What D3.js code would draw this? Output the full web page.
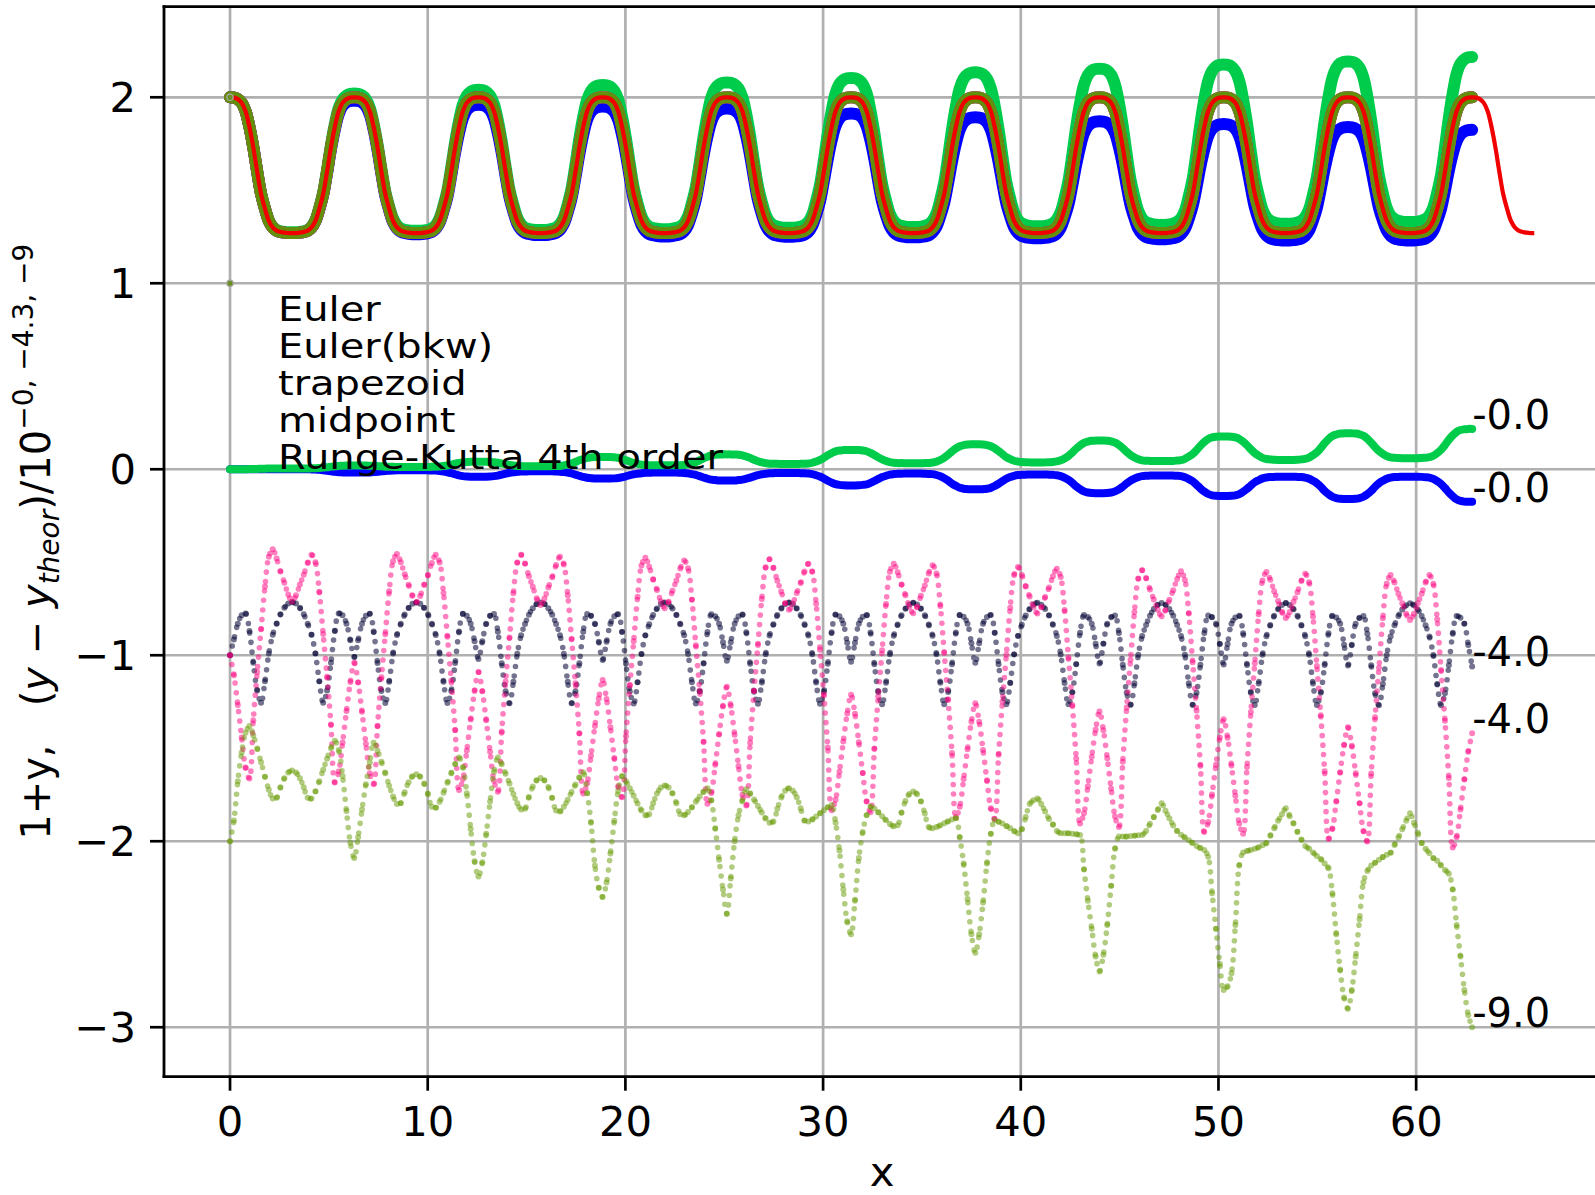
<!DOCTYPE html>
<html><head><meta charset="utf-8">
<script src="https://cdn.jsdelivr.net/npm/d3@7"></script>
<style>html,body{margin:0;padding:0;background:#fff;}svg{display:block;font-family:"DejaVu Sans",sans-serif;}</style>
</head><body>
<svg id="chart" width="1595" height="1195"></svg>
<script>
// sample spacing of every series (x = index * X_STEP)
const X_STEP = Math.PI / 16;

// 1 + y_theor  (x from 0 to 21*pi)
const theory = [
2,1.998,1.99,1.97,1.925,1.84,1.73,1.6,1.48,1.4,1.335,1.3,1.283,1.276,1.272,1.27,1.27,1.27,1.272,1.276,1.283,1.3,1.335,1.4,1.48,1.6,1.73,1.84,1.925,1.97,1.99,1.998,
2,1.998,1.99,1.97,1.925,1.84,1.73,1.6,1.48,1.4,1.335,1.3,1.283,1.276,1.272,1.27,1.27,1.27,1.272,1.276,1.283,1.3,1.335,1.4,1.48,1.6,1.73,1.84,1.925,1.97,1.99,1.998,
2,1.998,1.99,1.97,1.925,1.84,1.73,1.6,1.48,1.4,1.335,1.3,1.283,1.276,1.272,1.27,1.27,1.27,1.272,1.276,1.283,1.3,1.335,1.4,1.48,1.6,1.73,1.84,1.925,1.97,1.99,1.998,
2,1.998,1.99,1.97,1.925,1.84,1.73,1.6,1.48,1.4,1.335,1.3,1.283,1.276,1.272,1.27,1.27,1.27,1.272,1.276,1.283,1.3,1.335,1.4,1.48,1.6,1.73,1.84,1.925,1.97,1.99,1.998,
2,1.998,1.99,1.97,1.925,1.84,1.73,1.6,1.48,1.4,1.335,1.3,1.283,1.276,1.272,1.27,1.27,1.27,1.272,1.276,1.283,1.3,1.335,1.4,1.48,1.6,1.73,1.84,1.925,1.97,1.99,1.998,
2,1.998,1.99,1.97,1.925,1.84,1.73,1.6,1.48,1.4,1.335,1.3,1.283,1.276,1.272,1.27,1.27,1.27,1.272,1.276,1.283,1.3,1.335,1.4,1.48,1.6,1.73,1.84,1.925,1.97,1.99,1.998,
2,1.998,1.99,1.97,1.925,1.84,1.73,1.6,1.48,1.4,1.335,1.3,1.283,1.276,1.272,1.27,1.27,1.27,1.272,1.276,1.283,1.3,1.335,1.4,1.48,1.6,1.73,1.84,1.925,1.97,1.99,1.998,
2,1.998,1.99,1.97,1.925,1.84,1.73,1.6,1.48,1.4,1.335,1.3,1.283,1.276,1.272,1.27,1.27,1.27,1.272,1.276,1.283,1.3,1.335,1.4,1.48,1.6,1.73,1.84,1.925,1.97,1.99,1.998,
2,1.998,1.99,1.97,1.925,1.84,1.73,1.6,1.48,1.4,1.335,1.3,1.283,1.276,1.272,1.27,1.27,1.27,1.272,1.276,1.283,1.3,1.335,1.4,1.48,1.6,1.73,1.84,1.925,1.97,1.99,1.998,
2,1.998,1.99,1.97,1.925,1.84,1.73,1.6,1.48,1.4,1.335,1.3,1.283,1.276,1.272,1.27,1.27,1.27,1.272,1.276,1.283,1.3,1.335,1.4,1.48,1.6,1.73,1.84,1.925,1.97,1.99,1.998,
2,1.998,1.99,1.97,1.925,1.84,1.73,1.6,1.48,1.4,1.335,1.3,1.283,1.276,1.272,1.27,1.27
];

// Euler: y - y_theor (scale 10^0)
const eulerErr = [
0,0,0,0,0,0,0,0,0,0,0,0,0,0,0,0, 0,0,0,0,0,-0.001,-0.002,-0.003,-0.005,-0.008,-0.011,-0.014,-0.016,-0.017,-0.018,-0.018,
-0.018,-0.018,-0.018,-0.018,-0.017,-0.015,-0.014,-0.011,-0.009,-0.008,-0.007,-0.006,-0.006,-0.006,-0.006,-0.006, -0.006,-0.006,-0.006,-0.006,-0.007,-0.007,-0.009,-0.012,-0.016,-0.021,-0.027,-0.033,-0.037,-0.039,-0.04,-0.04,
-0.04,-0.04,-0.04,-0.039,-0.037,-0.034,-0.029,-0.024,-0.019,-0.016,-0.014,-0.012,-0.012,-0.011,-0.011,-0.011, -0.011,-0.011,-0.011,-0.011,-0.012,-0.013,-0.015,-0.018,-0.022,-0.029,-0.036,-0.041,-0.046,-0.048,-0.05,-0.05,
-0.05,-0.05,-0.05,-0.049,-0.047,-0.043,-0.038,-0.032,-0.027,-0.024,-0.021,-0.019,-0.019,-0.018,-0.018,-0.018, -0.018,-0.018,-0.018,-0.018,-0.019,-0.02,-0.022,-0.026,-0.03,-0.037,-0.044,-0.051,-0.056,-0.058,-0.06,-0.06,
-0.06,-0.06,-0.06,-0.058,-0.056,-0.051,-0.045,-0.038,-0.032,-0.027,-0.024,-0.022,-0.021,-0.02,-0.02,-0.02, -0.02,-0.02,-0.02,-0.021,-0.021,-0.023,-0.026,-0.032,-0.039,-0.05,-0.062,-0.072,-0.08,-0.084,-0.086,-0.087,
-0.087,-0.087,-0.086,-0.084,-0.081,-0.073,-0.063,-0.052,-0.042,-0.035,-0.029,-0.026,-0.024,-0.024,-0.023,-0.023, -0.023,-0.023,-0.023,-0.024,-0.025,-0.026,-0.031,-0.038,-0.048,-0.061,-0.077,-0.089,-0.1,-0.105,-0.107,-0.108,
-0.108,-0.108,-0.107,-0.105,-0.1,-0.09,-0.078,-0.064,-0.051,-0.042,-0.035,-0.031,-0.03,-0.029,-0.028,-0.028, -0.028,-0.028,-0.028,-0.029,-0.03,-0.032,-0.037,-0.046,-0.057,-0.073,-0.092,-0.107,-0.119,-0.125,-0.128,-0.129,
-0.129,-0.129,-0.128,-0.125,-0.119,-0.108,-0.093,-0.076,-0.061,-0.05,-0.042,-0.037,-0.035,-0.034,-0.033,-0.033, -0.033,-0.033,-0.033,-0.034,-0.035,-0.037,-0.043,-0.053,-0.065,-0.083,-0.103,-0.12,-0.133,-0.14,-0.143,-0.144,
-0.144,-0.144,-0.143,-0.14,-0.134,-0.121,-0.106,-0.087,-0.07,-0.059,-0.049,-0.044,-0.042,-0.041,-0.04,-0.04, -0.04,-0.04,-0.04,-0.041,-0.042,-0.045,-0.051,-0.062,-0.075,-0.094,-0.116,-0.134,-0.148,-0.155,-0.159,-0.16,
-0.16,-0.16,-0.159,-0.155,-0.148,-0.134,-0.116,-0.094,-0.075,-0.062,-0.051,-0.045,-0.042,-0.041,-0.04,-0.04, -0.04,-0.04,-0.04,-0.041,-0.043,-0.045,-0.052,-0.064,-0.079,-0.101,-0.125,-0.145,-0.162,-0.17,-0.174,-0.175,
-0.175
];

// Euler(bkw): y - y_theor (scale 10^0)
const eulerBkwErr = [
0,0,0,0,0,0.001,0.001,0.002,0.003,0.003,0.004,0.004,0.004,0.004,0.004,0.004, 0.004,0.004,0.004,0.004,0.004,0.005,0.005,0.007,0.009,0.011,0.014,0.016,0.018,0.019,0.02,0.02,
0.02,0.02,0.02,0.02,0.019,0.018,0.017,0.016,0.014,0.013,0.013,0.012,0.012,0.012,0.012,0.012, 0.012,0.012,0.012,0.012,0.013,0.013,0.015,0.017,0.02,0.025,0.03,0.034,0.037,0.039,0.04,0.04,
0.04,0.04,0.04,0.039,0.038,0.035,0.031,0.027,0.023,0.02,0.018,0.017,0.016,0.016,0.016,0.016, 0.016,0.016,0.016,0.017,0.017,0.018,0.021,0.025,0.031,0.039,0.048,0.055,0.061,0.064,0.066,0.066,
0.066,0.066,0.066,0.064,0.062,0.056,0.049,0.041,0.034,0.029,0.025,0.023,0.022,0.021,0.021,0.021, 0.021,0.021,0.021,0.022,0.022,0.023,0.026,0.032,0.038,0.048,0.058,0.067,0.074,0.078,0.079,0.08,
0.08,0.08,0.079,0.078,0.075,0.069,0.061,0.051,0.043,0.037,0.033,0.03,0.029,0.029,0.028,0.028, 0.028,0.028,0.028,0.029,0.03,0.031,0.035,0.042,0.05,0.062,0.076,0.087,0.096,0.101,0.103,0.104,
0.104,0.104,0.103,0.101,0.097,0.088,0.077,0.064,0.053,0.045,0.038,0.035,0.033,0.033,0.032,0.032, 0.032,0.032,0.032,0.033,0.034,0.036,0.041,0.05,0.062,0.078,0.096,0.112,0.124,0.13,0.133,0.134,
0.134,0.134,0.133,0.13,0.124,0.113,0.098,0.081,0.065,0.054,0.046,0.041,0.039,0.038,0.037,0.037, 0.037,0.037,0.037,0.038,0.039,0.042,0.048,0.058,0.071,0.09,0.111,0.128,0.142,0.149,0.153,0.154,
0.154,0.154,0.153,0.15,0.143,0.13,0.113,0.094,0.076,0.064,0.054,0.048,0.046,0.045,0.044,0.044, 0.044,0.044,0.044,0.045,0.047,0.049,0.056,0.068,0.082,0.103,0.127,0.147,0.163,0.171,0.175,0.176,
0.176,0.176,0.175,0.171,0.163,0.148,0.129,0.107,0.087,0.073,0.061,0.055,0.053,0.051,0.05,0.05, 0.05,0.05,0.05,0.051,0.053,0.056,0.063,0.076,0.091,0.114,0.14,0.162,0.179,0.187,0.192,0.193,
0.193,0.193,0.192,0.188,0.18,0.164,0.143,0.119,0.098,0.083,0.071,0.064,0.062,0.06,0.059,0.059, 0.059,0.059,0.059,0.061,0.062,0.065,0.073,0.087,0.105,0.13,0.159,0.182,0.201,0.211,0.215,0.217,
0.217
];

// trapezoid: scaled error, plotted with offset -1
const trapezoidErr = [
-1,-0.915,-0.83,-0.785,-0.775,-0.87,-1.04,-1.19,-1.255,-1.14,-0.99,-0.89,-0.83,-0.78,-0.745,-0.722,-0.715,-0.722,-0.745,-0.78,-0.83,-0.89,-0.99,-1.14,-1.255,-1.19,-1.04,-0.87,-0.775,-0.785,-0.83,-0.92,
-1.01,-0.92,-0.83,-0.787,-0.777,-0.872,-1.042,-1.192,-1.257,-1.142,-0.991,-0.891,-0.831,-0.781,-0.746,-0.723,-0.716,-0.723,-0.746,-0.781,-0.831,-0.891,-0.991,-1.142,-1.257,-1.192,-1.042,-0.872,-0.777,-0.787,-0.83,-0.925,
-1.02,-0.925,-0.83,-0.788,-0.778,-0.873,-1.043,-1.193,-1.258,-1.143,-0.992,-0.892,-0.832,-0.782,-0.747,-0.724,-0.716,-0.724,-0.747,-0.782,-0.832,-0.892,-0.992,-1.143,-1.258,-1.193,-1.043,-0.873,-0.778,-0.788,-0.83,-0.928,
-1.025,-0.928,-0.83,-0.79,-0.78,-0.875,-1.045,-1.195,-1.26,-1.145,-0.993,-0.893,-0.833,-0.783,-0.748,-0.725,-0.717,-0.725,-0.748,-0.783,-0.833,-0.893,-0.993,-1.145,-1.26,-1.195,-1.045,-0.875,-0.78,-0.79,-0.83,-0.93,
-1.03,-0.93,-0.83,-0.791,-0.781,-0.876,-1.046,-1.196,-1.261,-1.146,-0.994,-0.894,-0.834,-0.784,-0.749,-0.726,-0.717,-0.726,-0.749,-0.784,-0.834,-0.894,-0.994,-1.146,-1.261,-1.196,-1.046,-0.876,-0.781,-0.791,-0.83,-0.933,
-1.035,-0.933,-0.83,-0.793,-0.783,-0.878,-1.048,-1.198,-1.263,-1.148,-0.995,-0.895,-0.835,-0.785,-0.75,-0.727,-0.718,-0.727,-0.75,-0.785,-0.835,-0.895,-0.995,-1.148,-1.263,-1.198,-1.048,-0.878,-0.783,-0.793,-0.83,-0.935,
-1.04,-0.935,-0.83,-0.794,-0.784,-0.879,-1.049,-1.199,-1.264,-1.149,-0.996,-0.896,-0.836,-0.786,-0.751,-0.728,-0.718,-0.728,-0.751,-0.786,-0.836,-0.896,-0.996,-1.149,-1.264,-1.199,-1.049,-0.879,-0.784,-0.794,-0.83,-0.938,
-1.045,-0.938,-0.83,-0.796,-0.786,-0.881,-1.051,-1.201,-1.266,-1.151,-0.997,-0.897,-0.837,-0.787,-0.752,-0.729,-0.719,-0.729,-0.752,-0.787,-0.837,-0.897,-0.997,-1.151,-1.266,-1.201,-1.051,-0.881,-0.786,-0.796,-0.83,-0.94,
-1.05,-0.94,-0.83,-0.797,-0.787,-0.882,-1.052,-1.202,-1.267,-1.152,-0.998,-0.898,-0.838,-0.788,-0.753,-0.73,-0.719,-0.73,-0.753,-0.788,-0.838,-0.898,-0.998,-1.152,-1.267,-1.202,-1.052,-0.882,-0.787,-0.797,-0.83,-0.943,
-1.055,-0.943,-0.83,-0.799,-0.789,-0.884,-1.054,-1.204,-1.269,-1.154,-0.999,-0.899,-0.839,-0.789,-0.754,-0.731,-0.72,-0.731,-0.754,-0.789,-0.839,-0.899,-0.999,-1.154,-1.269,-1.204,-1.054,-0.884,-0.789,-0.799,-0.83,-0.945,
-1.06
];

// midpoint: scaled error, plotted with offset -1
const midpointErr = [
-1,-1.107,-1.268,-1.442,-1.603,-1.663,-1.35,-1.09,-0.86,-0.63,-0.47,-0.43,-0.48,-0.55,-0.61,-0.674,-0.712,-0.678,-0.62,-0.567,-0.504,-0.46,-0.5,-0.658,-0.886,-1.115,-1.373,-1.684,-1.625,-1.469,-1.3,-1.144,
-1.04,-1.146,-1.304,-1.476,-1.634,-1.693,-1.379,-1.118,-0.887,-0.656,-0.495,-0.455,-0.5,-0.565,-0.621,-0.68,-0.715,-0.681,-0.622,-0.568,-0.504,-0.46,-0.501,-0.665,-0.901,-1.136,-1.402,-1.724,-1.666,-1.512,-1.346,-1.192,
-1.09,-1.194,-1.35,-1.519,-1.675,-1.734,-1.41,-1.141,-0.904,-0.667,-0.502,-0.46,-0.507,-0.575,-0.632,-0.694,-0.73,-0.695,-0.636,-0.58,-0.515,-0.47,-0.512,-0.677,-0.914,-1.151,-1.42,-1.744,-1.688,-1.54,-1.38,-1.232,
-1.133,-1.235,-1.387,-1.553,-1.705,-1.763,-1.435,-1.164,-0.925,-0.685,-0.518,-0.476,-0.524,-0.591,-0.649,-0.71,-0.747,-0.712,-0.653,-0.598,-0.534,-0.49,-0.532,-0.702,-0.946,-1.19,-1.466,-1.799,-1.741,-1.589,-1.423,-1.271,
-1.169,-1.272,-1.427,-1.595,-1.75,-1.808,-1.471,-1.192,-0.945,-0.698,-0.527,-0.484,-0.531,-0.599,-0.657,-0.719,-0.756,-0.722,-0.665,-0.612,-0.55,-0.508,-0.551,-0.723,-0.97,-1.217,-1.496,-1.834,-1.777,-1.627,-1.464,-1.313,
-1.213,-1.315,-1.468,-1.633,-1.786,-1.844,-1.504,-1.222,-0.973,-0.724,-0.551,-0.508,-0.554,-0.62,-0.677,-0.738,-0.774,-0.739,-0.68,-0.625,-0.56,-0.516,-0.56,-0.735,-0.988,-1.24,-1.525,-1.87,-1.814,-1.666,-1.505,-1.357,
-1.258,-1.358,-1.509,-1.672,-1.823,-1.88,-1.535,-1.249,-0.997,-0.744,-0.569,-0.525,-0.568,-0.63,-0.684,-0.741,-0.775,-0.742,-0.687,-0.636,-0.575,-0.535,-0.579,-0.757,-1.012,-1.267,-1.555,-1.904,-1.849,-1.704,-1.546,-1.4,
-1.303,-1.403,-1.554,-1.717,-1.867,-1.924,-1.572,-1.281,-1.024,-0.767,-0.588,-0.543,-0.585,-0.647,-0.7,-0.756,-0.79,-0.757,-0.702,-0.65,-0.59,-0.549,-0.595,-0.776,-1.037,-1.299,-1.594,-1.951,-1.896,-1.749,-1.589,-1.442,
-1.344,-1.444,-1.593,-1.755,-1.904,-1.96,-1.601,-1.305,-1.043,-0.78,-0.598,-0.552,-0.594,-0.656,-0.709,-0.766,-0.8,-0.768,-0.713,-0.661,-0.601,-0.562,-0.608,-0.792,-1.058,-1.323,-1.624,-1.987,-1.932,-1.787,-1.629,-1.484,
-1.387,-1.486,-1.635,-1.796,-1.945,-2.001,-1.636,-1.334,-1.067,-0.801,-0.615,-0.569,-0.609,-0.67,-0.721,-0.777,-0.81,-0.777,-0.721,-0.67,-0.609,-0.569,-0.616,-0.806,-1.079,-1.352,-1.66,-2.034,-1.978,-1.829,-1.668,-1.519,
-1.42
];

// Runge-Kutta 4th order: scaled error, plotted with offset -2
const rk4Err = [
-2,-1.888,-1.678,-1.523,-1.417,-1.38,-1.431,-1.501,-1.575,-1.653,-1.723,-1.77,-1.766,-1.71,-1.661,-1.631, -1.62,-1.631,-1.661,-1.71,-1.766,-1.77,-1.733,-1.677,-1.615,-1.556,-1.5,-1.46,-1.51,-1.649,-1.838,-2.008,
-2.09,-1.978,-1.83,-1.693,-1.576,-1.47,-1.513,-1.572,-1.635,-1.701,-1.76,-1.8,-1.795,-1.736,-1.683,-1.651, -1.64,-1.653,-1.689,-1.748,-1.815,-1.82,-1.788,-1.739,-1.685,-1.634,-1.585,-1.55,-1.601,-1.742,-1.934,-2.107,
-2.19,-2.113,-1.96,-1.787,-1.627,-1.55,-1.586,-1.637,-1.69,-1.746,-1.796,-1.83,-1.825,-1.762,-1.706,-1.672, -1.66,-1.673,-1.709,-1.768,-1.835,-1.84,-1.815,-1.777,-1.735,-1.695,-1.657,-1.63,-1.74,-1.9,-2.13,-2.25,
-2.3,-2.222,-2.066,-1.89,-1.728,-1.65,-1.677,-1.715,-1.755,-1.797,-1.835,-1.86,-1.855,-1.796,-1.743,-1.711, -1.7,-1.711,-1.743,-1.796,-1.855,-1.86,-1.843,-1.817,-1.788,-1.76,-1.734,-1.715,-1.78,-1.93,-2.1,-2.26,
-2.39,-2.2,-2,-1.86,-1.78,-1.72,-1.743,-1.776,-1.81,-1.846,-1.878,-1.9,-1.894,-1.826,-1.765,-1.728, -1.715,-1.728,-1.763,-1.822,-1.889,-1.894,-1.883,-1.867,-1.85,-1.833,-1.817,-1.805,-1.9,-2.05,-2.26,-2.43,
-2.5,-2.32,-2.09,-1.95,-1.86,-1.815,-1.824,-1.844,-1.865,-1.887,-1.907,-1.92,-1.914,-1.845,-1.783,-1.746, -1.733,-1.747,-1.786,-1.851,-1.924,-1.93,-1.924,-1.914,-1.903,-1.893,-1.883,-1.876,-1.98,-2.12,-2.31,-2.5,
-2.6,-2.5,-2.33,-2.12,-1.96,-1.886,-1.895,-1.905,-1.918,-1.93,-1.945,-1.957,-1.935,-1.87,-1.8,-1.78, -1.77,-1.8,-1.84,-1.88,-1.91,-1.945,-1.957,-1.957,-1.957,-1.96,-1.963,-1.966,-2.15,-2.32,-2.47,-2.62,
-2.7,-2.61,-2.45,-2.24,-2.04,-1.975,-1.975,-1.975,-1.972,-1.97,-1.968,-1.966,-1.945,-1.906,-1.87,-1.832, -1.796,-1.836,-1.876,-1.915,-1.945,-1.965,-1.98,-1.995,-2.01,-2.025,-2.037,-2.047,-2.083,-2.28,-2.47,-2.66,
-2.8,-2.78,-2.71,-2.45,-2.13,-2.06,-2.052,-2.047,-2.04,-2.033,-2.022,-2.01,-1.97,-1.93,-1.89,-1.855, -1.823,-1.865,-1.905,-1.95,-1.99,-2.025,-2.04,-2.06,-2.08,-2.095,-2.12,-2.145,-2.28,-2.5,-2.69,-2.84,
-2.9,-2.8,-2.62,-2.42,-2.22,-2.16,-2.13,-2.115,-2.1,-2.085,-2.072,-2.062,-2.02,-1.98,-1.935,-1.89, -1.85,-1.9,-1.955,-2.01,-2.04,-2.065,-2.09,-2.105,-2.13,-2.155,-2.175,-2.26,-2.45,-2.62,-2.8,-2.935,
-3
];

const methodNames = ["Euler", "Euler(bkw)", "trapezoid", "midpoint", "Runge-Kutta 4th order"];
const methodColors = ["#0000ff", "#00cc4c", "#000033", "#ff0080", "#669900"];
const endLabels = ["-0.0", "-0.0", "-4.0", "-4.0", "-9.0"];
const xTicks = [0, 10, 20, 30, 40, 50, 60];
const yTicks = [-3, -2, -1, 0, 1, 2];
const startMarkX = [0, 0];
const startMarkY = [1, 2];

// ---------- drawing ----------
const svg = d3.select("#chart");
svg.append("rect").attr("width", 1595).attr("height", 1195).attr("fill", "#fff");

const L = 164, R = 1600, T = 6.7, B = 1076.7;
const x = d3.scaleLinear().domain([-3.34, 69.30]).range([L, R]);
const y = d3.scaleLinear().domain([-3.266, 2.487]).range([B, T]);

svg.append("defs").append("clipPath").attr("id", "plotclip")
  .append("rect").attr("x", L).attr("y", T).attr("width", R - L).attr("height", B - T);

// grid
const grid = svg.append("g").attr("stroke", "#b0b0b0").attr("stroke-width", 2.7);
xTicks.forEach(t => grid.append("line").attr("x1", x(t)).attr("x2", x(t)).attr("y1", T).attr("y2", B));
yTicks.forEach(t => grid.append("line").attr("x1", L).attr("x2", R).attr("y1", y(t)).attr("y2", y(t)));

const plot = svg.append("g").attr("clip-path", "url(#plotclip)");
const xi = i => x(i * X_STEP);
const lineGen = d3.line().x((d, i) => xi(i)).y(d => y(d)).curve(d3.curveCatmullRom.alpha(0.5));

function band(vals, color, w) {
  plot.append("path").attr("d", lineGen(vals)).attr("fill", "none").attr("stroke", color)
    .attr("stroke-width", w).attr("stroke-linecap", "round").attr("stroke-linejoin", "round");
}
// markers at the samples plus a dotted stroke through them
function dots(vals, color, op) {
  plot.append("path").attr("d", lineGen(vals)).attr("fill", "none").attr("stroke", color)
    .attr("stroke-opacity", op).attr("stroke-width", 5.6).attr("stroke-linecap", "round")
    .attr("stroke-dasharray", "0 9.5");
  plot.append("g").selectAll("circle").data(vals).join("circle")
    .attr("cx", (d, i) => xi(i)).attr("cy", d => y(d)).attr("r", 3)
    .attr("fill", color).attr("fill-opacity", op);
}

const nPts = eulerErr.length;
const theoryOnGrid = theory.slice(0, nPts);
const eulerTop = theoryOnGrid.map((t, i) => t + eulerErr[i]);
const bkwTop = theoryOnGrid.map((t, i) => t + eulerBkwErr[i]);

// Euler
band(eulerTop, methodColors[0], 12);
band(eulerErr, methodColors[0], 8);
// Euler(bkw)
band(bkwTop, methodColors[1], 12);
band(eulerBkwErr, methodColors[1], 8);
// trapezoid
band(theoryOnGrid, "#1a1a4d", 12);
dots(trapezoidErr, methodColors[2], 0.55);
// midpoint
band(theoryOnGrid, "#ff3399", 12);
dots(midpointErr, methodColors[3], 0.5);
// RK4
band(theoryOnGrid, "#62900a", 12);
dots(rk4Err, methodColors[4], 0.5);
// theory
plot.append("path").attr("d", lineGen(theory)).attr("fill", "none").attr("stroke", "#f00000")
  .attr("stroke-width", 4.2).attr("stroke-linejoin", "round");

// small start markers
startMarkX.forEach((sx, i) => {
  plot.append("circle").attr("cx", x(sx)).attr("cy", y(startMarkY[i])).attr("r", 3.2)
    .attr("fill", "#6b8f22").attr("stroke", "#a8a8a8").attr("stroke-width", 1.2);
});

// end labels
const errSeries = [eulerBkwErr, eulerErr, trapezoidErr, midpointErr, rk4Err];
errSeries.forEach((s, k) => {
  const last = s.length - 1;
  svg.append("text").attr("x", xi(last)).attr("y", y(s[last]))
    .attr("font-size", 40).attr("fill", "#000").text(endLabels[k]);
});

// spines
const sp = svg.append("g").attr("stroke", "#000").attr("stroke-width", 2.8).attr("stroke-linecap", "square");
sp.append("line").attr("x1", L).attr("x2", L).attr("y1", T).attr("y2", B);
sp.append("line").attr("x1", L).attr("x2", R).attr("y1", T).attr("y2", T);
sp.append("line").attr("x1", L).attr("x2", R).attr("y1", B).attr("y2", B);

// ticks
const tk = svg.append("g").attr("stroke", "#000").attr("stroke-width", 2.7);
xTicks.forEach(t => tk.append("line").attr("x1", x(t)).attr("x2", x(t)).attr("y1", B).attr("y2", B + 14));
yTicks.forEach(t => tk.append("line").attr("x1", L - 14).attr("x2", L).attr("y1", y(t)).attr("y2", y(t)));

const fmt = v => (v < 0 ? "\u2212" + Math.abs(v) : String(v));
xTicks.forEach(t => svg.append("text").attr("x", x(t)).attr("y", 1136).attr("text-anchor", "middle")
  .attr("font-size", 41.7).text(fmt(t)));
yTicks.forEach(t => svg.append("text").attr("x", 136).attr("y", y(t)).attr("text-anchor", "end")
  .attr("dominant-baseline", "central").attr("font-size", 41.7).text(fmt(t)));

// axis labels
svg.append("text").attr("x", (L + R) / 2).attr("y", 1186).attr("text-anchor", "middle")
  .attr("font-size", 41.7).text("x");

const yl = svg.append("text").attr("transform", "translate(50," + ((T + B) / 2) + ") rotate(-90)")
  .attr("text-anchor", "middle").attr("font-size", 40).style("white-space", "pre");
yl.append("tspan").text("1+y,   ");
yl.append("tspan").text("(");
yl.append("tspan").attr("font-style", "italic").text("y");
yl.append("tspan").text(" \u2212 ");
yl.append("tspan").attr("font-style", "italic").text("y");
yl.append("tspan").attr("font-style", "italic").attr("font-size", 28).attr("dy", 9).text("theor");
yl.append("tspan").attr("dy", -9).text(")/10");
yl.append("tspan").attr("font-size", 28).attr("dy", -17).text("\u22120, \u22124.3, \u22129");

// legend (text only)
methodNames.forEach((n, i) => {
  svg.append("text").attr("transform", "translate(278," + (320.5 + 37 * i) + ") scale(1,0.85)")
    .attr("font-size", 40).attr("fill", "#000").text(n);
});
</script>
</body></html>
